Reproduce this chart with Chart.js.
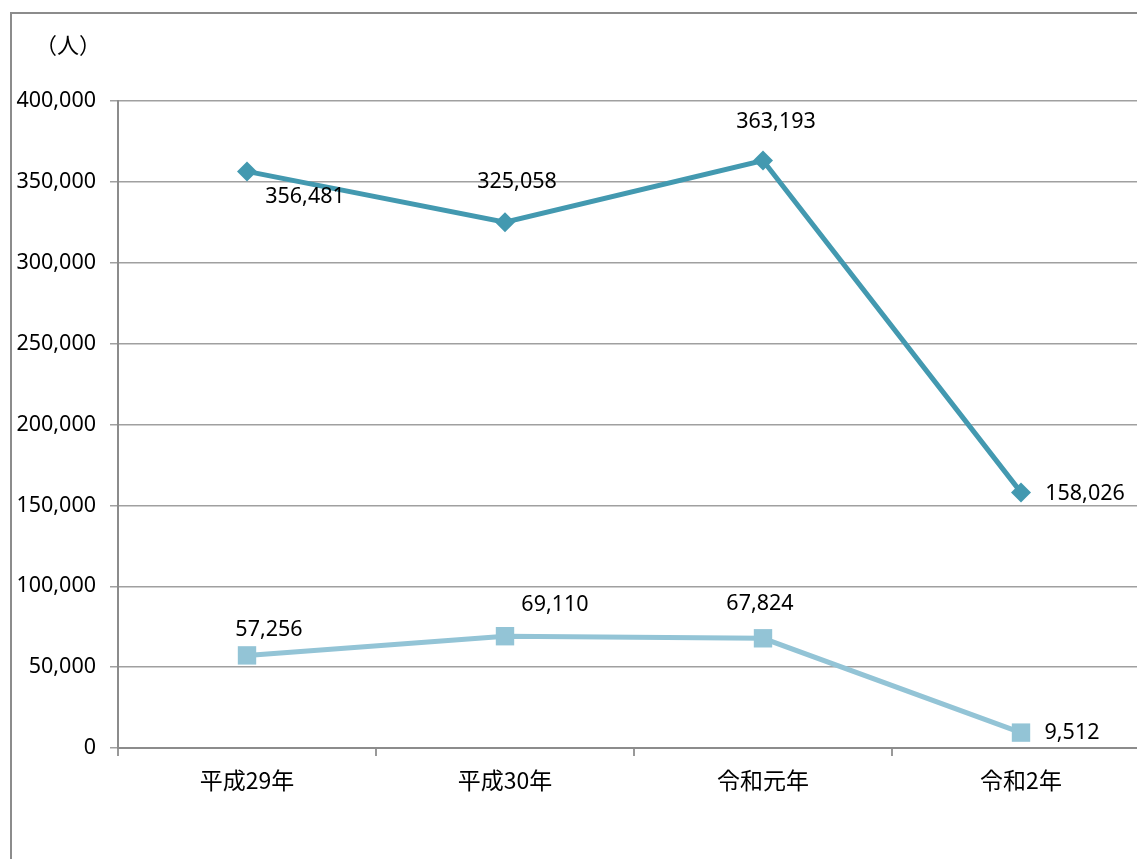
<!DOCTYPE html>
<html>
<head>
<meta charset="utf-8">
<script src="https://cdn.jsdelivr.net/npm/chart.js@4/dist/chart.umd.min.js"></script>
<style>
  html, body { margin: 0; padding: 0; background: #fff; overflow: hidden; }
  #wrap { position: relative; width: 1137px; height: 859px; overflow: hidden; }
  #frame { position: absolute; left: 10px; top: 12px; width: 1200px; height: 900px;
           border-left: 2px solid #8c8c8c; border-top: 2px solid #8c8c8c; }
  #chart { position: absolute; left: 0; top: 0; }
</style>
</head>
<body>
<div id="wrap">
  <div id="frame"></div>
  <canvas id="chart" width="1163" height="859"></canvas>
</div>
<script>
const categories = ['平成29年', '平成30年', '令和元年', '令和2年'];
const seriesA = [356481, 325058, 363193, 158026];
const seriesB = [57256, 69110, 67824, 9512];
const yTicks = [0, 50000, 100000, 150000, 200000, 250000, 300000, 350000, 400000];
const unitLabel = '（人）';

// label offsets from each point (text centre), tuned by eye
const labelOffsetsA = [[58, 25], [12, -40], [13, -39], [64, 1]];
const labelOffsetsB = [[22, -26], [50, -31], [-3, -34], [51, 0]];

const NUM_FONT = "'Noto Sans', 'Noto Sans CJK JP', sans-serif";
const JP_FONT = "'Noto Sans CJK JP', sans-serif";

function fmt(v) {
  return v.toLocaleString('en-US');
}

const dataLabels = {
  id: 'dataLabels',
  afterDatasetsDraw(chart) {
    const c = chart.ctx;
    c.save();
    c.font = '21.5px ' + NUM_FONT;
    c.fillStyle = '#000';
    c.textAlign = 'center';
    c.textBaseline = 'middle';
    chart.data.datasets.forEach((ds, di) => {
      const meta = chart.getDatasetMeta(di);
      meta.data.forEach((pt, i) => {
        const off = ds.labelOffsets[i];
        c.fillText(fmt(ds.data[i]), pt.x + off[0], pt.y + off[1]);
      });
    });
    c.restore();
  }
};

const unitText = {
  id: 'unitText',
  afterDraw(chart) {
    const c = chart.ctx;
    c.save();
    c.font = '22px ' + JP_FONT;
    c.fillStyle = '#000';
    c.textAlign = 'center';
    c.textBaseline = 'middle';
    c.fillText(unitLabel, 68, 45);
    c.restore();
  }
};

const ctx = document.getElementById('chart').getContext('2d');

new Chart(ctx, {
  type: 'line',
  data: {
    labels: categories,
    datasets: [
      {
        label: 'A',
        data: seriesA,
        labelOffsets: labelOffsetsA,
        borderColor: '#4399b0',
        backgroundColor: '#4399b0',
        borderWidth: 5,
        pointStyle: 'rectRot',
        pointRadius: 10,
        pointBorderWidth: 0,
        tension: 0
      },
      {
        label: 'B',
        data: seriesB,
        labelOffsets: labelOffsetsB,
        borderColor: '#93c4d6',
        backgroundColor: '#93c4d6',
        borderWidth: 5,
        pointStyle: 'rect',
        pointRadius: 13,
        pointBorderWidth: 0,
        tension: 0
      }
    ]
  },
  options: {
    responsive: false,
    animation: false,
    layout: { padding: { top: 101, right: 0, bottom: 0, left: 0 } },
    plugins: {
      legend: { display: false },
      tooltip: { enabled: false }
    },
    scales: {
      x: {
        offset: true,
        grid: {
          offset: true,
          drawOnChartArea: false,
          drawTicks: true,
          tickLength: 8,
          color: '#999',
          lineWidth: 2
        },
        border: { color: '#8c8c8c', width: 2 },
        ticks: {
          font: { family: JP_FONT, size: 23 },
          color: '#000',
          padding: 10
        },
        afterFit(scale) { scale.height = 111; }
      },
      y: {
        min: 0,
        max: 400000,
        afterBuildTicks(scale) { scale.ticks = yTicks.map(v => ({ value: v })); },
        grid: {
          color: '#a0a0a0',
          lineWidth: 1.5,
          tickLength: 8
        },
        border: { color: '#8c8c8c', width: 2 },
        ticks: {
          font: { family: NUM_FONT, size: 21.5 },
          color: '#000',
          padding: 14,
          callback: v => fmt(v)
        },
        afterFit(scale) { scale.width = 118; }
      }
    }
  },
  plugins: [dataLabels, unitText]
});
</script>
</body>
</html>
